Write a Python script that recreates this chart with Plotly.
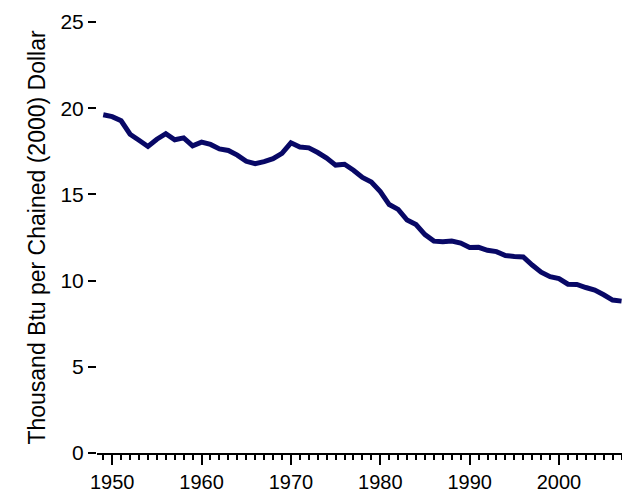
import plotly.graph_objects as go

years = list(range(1949, 2008))
intensity = [19.62, 19.51, 19.27, 18.49, 18.14, 17.78, 18.20, 18.52, 18.17, 18.28,
             17.82, 18.03, 17.90, 17.64, 17.55, 17.28, 16.92, 16.78, 16.90, 17.07,
             17.38, 17.99, 17.75, 17.70, 17.43, 17.11, 16.70, 16.75, 16.40, 15.98,
             15.72, 15.16, 14.41, 14.13, 13.51, 13.25, 12.67, 12.29, 12.25, 12.29,
             12.18, 11.92, 11.93, 11.76, 11.68, 11.45, 11.40, 11.37, 10.90, 10.49,
             10.23, 10.12, 9.79, 9.78, 9.60, 9.45, 9.18, 8.87, 8.81]

y_title = "Thousand Btu per Chained (2000) Dollar"

fig = go.Figure()
fig.add_trace(go.Scatter(x=years, y=intensity, mode="lines",
                         line=dict(color="#080866", width=5), showlegend=False))

font = dict(family="Liberation Sans, Arial, sans-serif", color="#000000")

fig.update_layout(
    width=622, height=493,
    margin=dict(l=97, r=0, t=22, b=37),
    paper_bgcolor="white", plot_bgcolor="white",
    font=font,
    xaxis=dict(range=[1948.3, 2007.05], tick0=1950, dtick=10,
               ticks="outside", ticklen=10, tickwidth=2, tickcolor="black",
               showline=True, linecolor="black", linewidth=2,
               showgrid=False, zeroline=False,
               tickfont=dict(size=20),
               minor=dict(dtick=1, tick0=1950, ticks="outside", ticklen=5,
                          tickwidth=1.5, tickcolor="black", showgrid=False)),
    yaxis=dict(range=[0, 25], tick0=0, dtick=5,
               ticks="outside", ticklen=8, tickwidth=2, tickcolor="black",
               showline=False, showgrid=False, zeroline=False,
               tickfont=dict(size=21),
               title=dict(text=y_title, font=dict(size=23), standoff=8)),
)

fig.write_html("out.html", config={"displayModeBar": False},
               post_script="document.body.style.margin='0';document.body.style.padding='0';")
